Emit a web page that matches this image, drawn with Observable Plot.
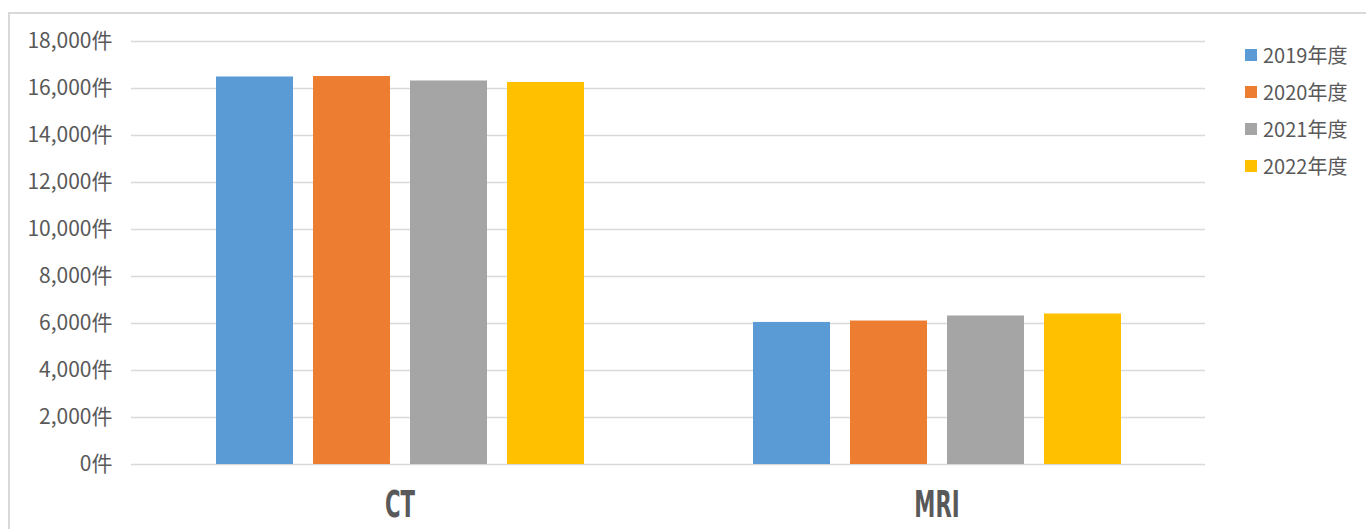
<!DOCTYPE html>
<html>
<head>
<meta charset="utf-8">
<script src="https://cdn.jsdelivr.net/npm/d3@7"></script>
<script src="https://cdn.jsdelivr.net/npm/@observablehq/plot@0.6"></script>
<style>
  html, body { margin: 0; padding: 0; background: #fff; overflow: hidden; }
  #wrap { position: relative; width: 1366px; height: 529px; overflow: hidden; }
  #frame { position: absolute; left: 8px; top: 12px; width: 1400px; height: 600px; border: 2px solid #D9D9D9; box-sizing: border-box; pointer-events: none; z-index: 2; }
  #chart { position: absolute; left: 0; top: 0; }
  #legend { position: absolute; left: 1245px; top: 36px; font-family: "Noto Sans CJK JP", "Noto Sans", sans-serif; font-size: 20px; color: #595959; }
  .item { display: flex; align-items: center; height: 37px; }
  .sw { width: 12px; height: 12px; margin-right: 6px; }
</style>
</head>
<body>
<div id="wrap">
  <div id="chart"></div>
  <div id="legend"></div>
  <div id="frame"></div>
</div>
<script>
const categories = ["CT", "MRI"];
const years = ["2019年度", "2020年度", "2021年度", "2022年度"];
const ctValues = [16490, 16510, 16320, 16255];
const mriValues = [6045, 6105, 6320, 6405];
const yTicks = [0, 2000, 4000, 6000, 8000, 10000, 12000, 14000, 16000, 18000];
const colors = ["#5B9BD5", "#ED7D31", "#A5A5A5", "#FFC000"];

const series = {CT: ctValues, MRI: mriValues};
const data = categories.flatMap(cat => years.map((year, i) => ({cat, year, value: series[cat][i]})));

const chart = Plot.plot({
  width: 1366,
  height: 529,
  marginTop: 41,
  marginBottom: 65,
  marginLeft: 131,
  marginRight: 161,
  style: {background: "transparent", color: "#595959"},
  fx: {domain: categories, padding: 0, label: null, axis: null},
  x: {domain: years, paddingInner: 0.21, paddingOuter: 0.865, axis: null},
  y: {domain: [0, 18000], label: null, axis: null},
  color: {domain: years, range: colors},
  marks: [
    Plot.gridY(yTicks, {stroke: "#D9D9D9", strokeOpacity: 1, strokeWidth: 1.5}),
    Plot.barY(data, {fx: "cat", x: "year", y: "value", fill: "year"}),
    Plot.axisY(yTicks, {
      tickSize: 0, tickPadding: 19, label: null,
      tickFormat: d => d3.format(",")(d) + "件",
      fontSize: 21, fontFamily: "Noto Sans CJK JP", fill: "#595959"
    }),
    Plot.axisFx({
      anchor: "bottom",
      tickSize: 0, tickPadding: 26, label: null,
      fontSize: 38, fontWeight: "bold", fontFamily: "DejaVu Sans Condensed", fill: "#595959"
    })
  ]
});
document.getElementById("chart").appendChild(chart);

// condense the category labels
chart.querySelectorAll("[aria-label='fx-axis tick label'] text").forEach(t => {
  const len = t.getComputedTextLength();
  t.setAttribute("textLength", len * 0.62);
  t.setAttribute("lengthAdjust", "spacingAndGlyphs");
});

const legend = document.getElementById("legend");
years.forEach((y, i) => {
  const item = document.createElement("div");
  item.className = "item";
  const sw = document.createElement("div");
  sw.className = "sw";
  sw.style.background = colors[i];
  const label = document.createElement("span");
  label.textContent = y;
  item.appendChild(sw);
  item.appendChild(label);
  legend.appendChild(item);
});
</script>
</body>
</html>
